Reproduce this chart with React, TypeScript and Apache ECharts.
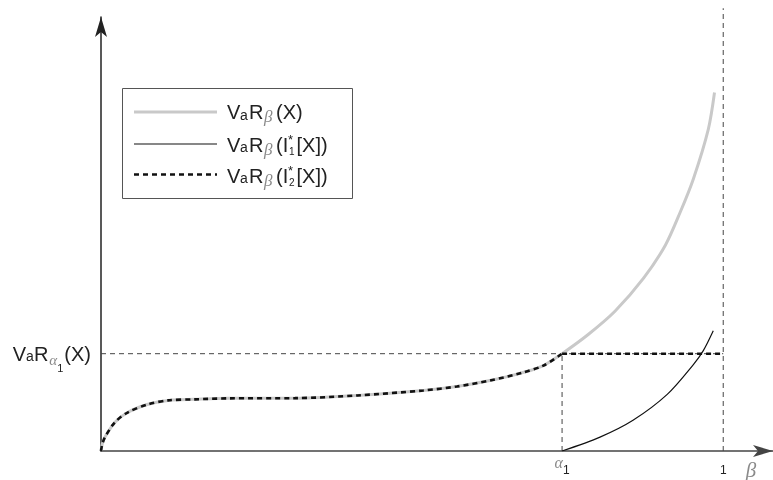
import React, { useEffect, useRef } from "react";
import * as echarts from "echarts";

// beta values (x) and VaR values (y)
const betaLow = [0, 0.002, 0.0064, 0.0225, 0.0434, 0.0756, 0.1077, 0.151, 0.204, 0.312, 0.412, 0.518, 0.572, 0.625, 0.678, 0.711, 0.741];
const varLow = [0, 0.07, 0.143, 0.296, 0.398, 0.48, 0.52, 0.531, 0.541, 0.543, 0.571, 0.622, 0.663, 0.724, 0.806, 0.878, 1.0];
const betaHigh = [0.783, 0.826, 0.872, 0.907, 0.931, 0.952, 0.976, 0.986];
const varHigh = [1.197, 1.436, 1.776, 2.115, 2.456, 2.796, 3.306, 3.684];
const betaI1 = [0.741, 0.802, 0.855, 0.91, 0.952, 0.968, 0.984];
const varI1 = [0, 0.143, 0.316, 0.582, 0.888, 1.031, 1.235];

const alpha1 = 0.741;
const level = 1;
const betaEnd = 1;
const xTicks = [alpha1, betaEnd];
const yTicks = [level];
const xMax = 1.08;
const yMax = 4.46;
const topLine = 4.55;

const zip = (a: number[], b: number[]) => a.map((v, i) => [v, b[i]]);

const FONT = "Liberation Sans";
const GREEK = "Liberation Serif";
const GREY_TEXT = "#8a8a8a";

const greyStyle = { color: "#c9c9c9", width: 3 };
const solidStyle = { color: "#111", width: 1.2 };
const dashStyle = { color: "#111", width: 2.6, type: [5, 4] as number[] };
const thinDash = { color: "#444", width: 1, type: [5, 4] as number[] };

function legendRow(yc: number, sub: string | null): any[] {
  const t = (x: number, dy: number, text: string, size: number, extra: any = {}) => ({
    type: "text",
    x,
    y: yc + dy,
    z: 100,
    style: {
      text,
      fontSize: size,
      fontFamily: FONT,
      fill: "#222",
      verticalAlign: "middle",
      align: "left",
      ...extra,
    },
  });
  const out = [
    t(227, 0, "V", 20),
    t(240, 2.5, "a", 14),
    t(249, 0, "R", 20),
    t(264, 4.5, "β", 17, { fontFamily: GREEK, fontStyle: "italic", fill: GREY_TEXT }),
  ];
  if (sub === null) {
    out.push(t(276, 0, "(X)", 20));
  } else {
    out.push(t(276, 0, "(I", 20));
    out.push(t(288, -5, "*", 13));
    out.push(t(289, 6.5, sub, 10));
    out.push(t(296.5, 0, "[X])", 20));
  }
  return out;
}

export default function App() {
  const ref = useRef<HTMLDivElement>(null);
  useEffect(() => {
    const chart = echarts.init(ref.current!, null, { renderer: "svg" });
    const lineBase = { type: "line", symbol: "none", silent: true, animation: false };
    const option: any = {
      animation: false,
      grid: { left: 101, right: 0, top: 17, bottom: 26 },
      xAxis: {
        type: "value",
        min: 0,
        max: xMax,
        splitLine: { show: false },
        axisTick: { show: false },
        axisLine: {
          onZero: true,
          lineStyle: { color: "#444", width: 1.5 },
          symbol: ["none", "arrow"],
          symbolSize: [9, 20],
        },
        axisLabel: {
          customValues: xTicks,
          margin: 3,
          formatter: (v: number) => (v < 0.99 ? "{a|α}{s|1}" : "{n|1}"),
          rich: {
            a: { fontSize: 16, fontFamily: GREEK, fontStyle: "italic", color: GREY_TEXT, verticalAlign: "top", lineHeight: 22 },
            s: { fontSize: 12, fontFamily: FONT, color: "#222", verticalAlign: "bottom" },
            n: { fontSize: 12, fontFamily: FONT, color: "#222", verticalAlign: "bottom", lineHeight: 22 },
          },
        },
        name: "β",
        nameLocation: "end",
        nameGap: -22,
        nameTextStyle: {
          fontFamily: GREEK,
          fontStyle: "italic",
          fontSize: 21,
          color: GREY_TEXT,
          align: "center",
          verticalAlign: "top",
          padding: [8, 0, 0, 0],
        },
      },
      yAxis: {
        type: "value",
        min: 0,
        max: yMax,
        splitLine: { show: false },
        axisTick: { show: false },
        axisLine: {
          onZero: true,
          lineStyle: { color: "#222", width: 1.5 },
          symbol: ["none", "arrow"],
          symbolSize: [9, 20],
        },
        axisLabel: {
          customValues: yTicks,
          margin: 10,
          formatter: () => "{v|V}{w|a}{v|R}{g|α}{s|1}{v|(X)}",
          rich: {
            v: { fontSize: 20, fontFamily: FONT, color: "#222", verticalAlign: "top", padding: [10, 0, 10, 0] },
            w: { fontSize: 14, fontFamily: FONT, color: "#222", verticalAlign: "top", padding: [15, 0, 0, 0] },
            g: { fontSize: 15, fontFamily: GREEK, fontStyle: "italic", color: GREY_TEXT, verticalAlign: "top", padding: [19, 0, 0, 1] },
            s: { fontSize: 11, fontFamily: FONT, color: "#222", verticalAlign: "top", padding: [29, 1, 0, 0] },
          },
        },
      },
      series: [
        { ...lineBase, name: "refH", data: [[0, level], [betaEnd, level]], lineStyle: thinDash, z: 1 },
        { ...lineBase, name: "refA", data: [[alpha1, 0], [alpha1, level]], lineStyle: thinDash, z: 1 },
        { ...lineBase, name: "refOne", data: [[betaEnd, 0], [betaEnd, topLine]], lineStyle: thinDash, clip: false, z: 1 },
        {
          ...lineBase,
          name: "VaR(X)",
          data: zip(betaLow.concat(betaHigh), varLow.concat(varHigh)),
          smooth: 0.3,
          lineStyle: greyStyle,
          z: 2,
        },
        { ...lineBase, name: "VaR(I1)", data: zip(betaI1, varI1), smooth: 0.3, lineStyle: solidStyle, z: 3 },
        { ...lineBase, name: "VaR(I2)", data: zip(betaLow, varLow), smooth: 0.3, lineStyle: dashStyle, z: 4 },
        { ...lineBase, name: "VaR(I2) flat", data: [[alpha1, level], [betaEnd, level]], lineStyle: dashStyle, z: 4 },
      ],
      graphic: [
        {
          type: "rect",
          shape: { x: 122.5, y: 88.5, width: 230, height: 110 },
          style: { fill: "#fff", stroke: "#555", lineWidth: 1 },
          z: 99,
        },
        { type: "line", shape: { x1: 134, y1: 112, x2: 217, y2: 112 }, style: { stroke: greyStyle.color, lineWidth: greyStyle.width }, z: 100 },
        { type: "line", shape: { x1: 134, y1: 144, x2: 217, y2: 144 }, style: { stroke: solidStyle.color, lineWidth: solidStyle.width }, z: 100 },
        { type: "line", shape: { x1: 134, y1: 174.5, x2: 217, y2: 174.5 }, style: { stroke: dashStyle.color, lineWidth: dashStyle.width, lineDash: dashStyle.type }, z: 100 },
        ...legendRow(112, null),
        ...legendRow(144.5, "1"),
        ...legendRow(175.5, "2"),
      ],
    };
    chart.setOption(option);
    return () => chart.dispose();
  }, []);
  return <div ref={ref} style={{ position: "fixed", left: 0, top: 0, width: 773, height: 480 }} />;
}
